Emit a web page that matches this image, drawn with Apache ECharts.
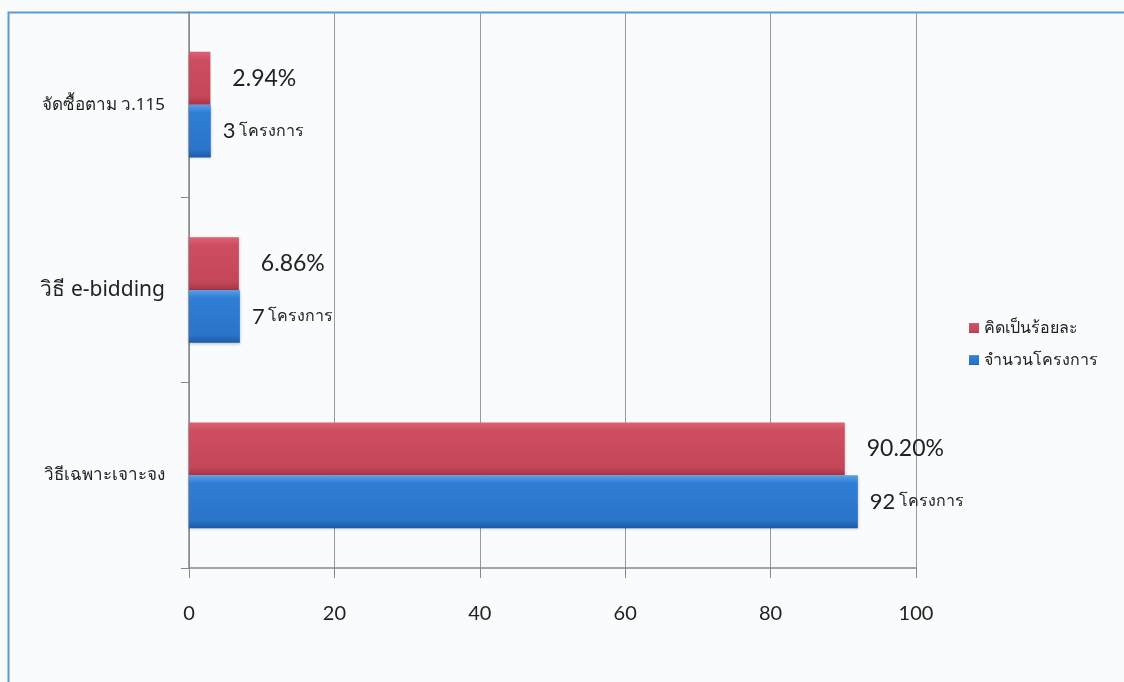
<!DOCTYPE html>
<html><head><meta charset="utf-8">
<script src="https://cdn.jsdelivr.net/npm/echarts@6/dist/echarts.min.js"></script>
<style>html,body{margin:0;padding:0;background:#f8fafb}#c{width:1124px;height:682px}</style>
</head><body><div id="c"></div>
<script>
const categories = ['วิธีเฉพาะเจาะจง', 'วิธี e-bidding', 'จัดซื้อตาม ว.115'];
const percentName = 'คิดเป็นร้อยละ';
const countName = 'จำนวนโครงการ';
const percentValues = [90.20, 6.86, 2.94];
const countValues = [92, 7, 3];
const xTicks = [0, 20, 40, 60, 80, 100];

const chart = echarts.init(document.getElementById('c'));
const redGrad = new echarts.graphic.LinearGradient(0,0,0,1,[{offset:0,color:'#dc6275'},{offset:0.15,color:'#cf4d61'},{offset:0.85,color:'#c44659'},{offset:1,color:'#a83446'}]);
const blueGrad = new echarts.graphic.LinearGradient(0,0,0,1,[{offset:0,color:'#5a9ee6'},{offset:0.15,color:'#2f7ed6'},{offset:0.85,color:'#2a74c9'},{offset:1,color:'#1d5aa6'}]);
chart.setOption({
  backgroundColor: '#f9fbfc',
  animation: false,
  graphic: [{type:'rect', shape:{x:8.5,y:12.5,width:1130,height:700}, style:{fill:'none',stroke:'#5b9bd5',lineWidth:2}, z:-1}],
  legend: {
    orient: 'vertical', left: 964, top: 315, itemGap: 16,
    itemWidth: 10, itemHeight: 10, icon: 'rect',
    data: [percentName, countName],
    textStyle: {fontSize: 16, color: '#222', fontFamily: 'Noto Sans, sans-serif'}
  },
  grid: {left: 189, right: 208, top: 12, bottom: 114, containLabel: false},
  xAxis: {
    type: 'value', min: 0, max: 100, interval: 20,
    axisLine: {show: true, lineStyle: {color: '#888', width: 1.5}},
    axisTick: {show: true, length: 10, inside: false, lineStyle: {color: '#888'}},
    splitLine: {show: true, lineStyle: {color: '#999', width: 1}},
    axisLabel: {margin: 36, fontSize: 20, color: '#222', fontFamily: 'Lato, sans-serif',
      formatter: v => xTicks.includes(v) ? String(v) : ''}
  },
  yAxis: {
    type: 'category', data: categories,
    axisLine: {show: true, lineStyle: {color: '#888', width: 1.5}},
    axisTick: {show: true, length: 8, lineStyle: {color: '#888'}},
    axisLabel: {margin: 24, color: '#222', fontFamily: 'Noto Sans, sans-serif',
      fontSize: 17,
      formatter: v => v === 'วิธี e-bidding' ? '{big|' + v + '}' : v,
      rich: {big: {fontSize: 21, color: '#222', fontFamily: 'Noto Sans, sans-serif'}}}
  },
  series: [
    {
      name: percentName, type: 'bar', data: percentValues,
      barGap: '0%', barCategoryGap: '43%',
      itemStyle: {color: redGrad, shadowColor: 'rgba(0,0,0,0.25)', shadowBlur: 3, shadowOffsetY: 1},
      label: {show: true, position: 'right', distance: 22, fontSize: 23, color: '#222',
        fontFamily: 'Lato, sans-serif', formatter: p => p.value.toFixed(2) + '%'}
    },
    {
      name: countName, type: 'bar', data: countValues,
      barGap: '0%', barCategoryGap: '43%',
      itemStyle: {color: blueGrad, shadowColor: 'rgba(0,0,0,0.25)', shadowBlur: 3, shadowOffsetY: 1},
      label: {show: true, position: 'right', distance: 12, color: '#222',
        formatter: p => '{n|' + p.value + '} {t|โครงการ}',
        rich: {n: {fontSize: 22, fontFamily: 'Lato, sans-serif', color: '#222'},
               t: {fontSize: 16, fontFamily: 'Noto Sans, sans-serif', color: '#222'}}}
    }
  ]
});
</script></body></html>
